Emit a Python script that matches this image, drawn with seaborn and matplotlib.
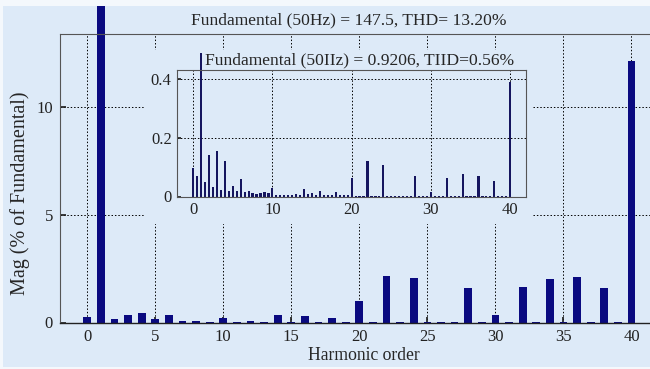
import numpy as np
import pandas as pd
import matplotlib
matplotlib.use("Agg")
import matplotlib.pyplot as plt
from matplotlib.patches import Rectangle
from matplotlib.transforms import Bbox, TransformedBbox
import seaborn as sns

# ---- data ----
main_order = list(range(0, 41))
main_mag = [0.26, 100.0, 0.14, 0.34, 0.43, 0.14, 0.34, 0.06, 0.06, 0.02,
            0.21, 0.02, 0.05, 0.02, 0.34, 0.02, 0.30, 0.02, 0.23, 0.02,
            1.00, 0.02, 2.16, 0.02, 2.06, 0.02, 0.02, 0.02, 1.58, 0.02,
            0.34, 0.02, 1.65, 0.02, 2.02, 0.02, 2.12, 0.02, 1.58, 0.02,
            12.15]

inset_order = [0, 0.5, 1, 1.5, 2, 2.5, 3, 3.5, 4, 4.5, 5, 5.5, 6, 6.5, 7, 7.5,
               8, 8.5, 9, 9.5, 10, 10.5, 11, 11.5, 12, 12.5, 13, 13.5, 14, 14.5,
               15, 15.5, 16, 16.5, 17, 17.5, 18, 18.5, 19, 19.5, 20, 20.5, 21,
               21.5, 22, 22.5, 23, 23.5, 24, 24.5, 25, 25.5, 26, 26.5, 27, 27.5,
               28, 28.5, 29, 29.5, 30, 30.5, 31, 31.5, 32, 32.5, 33, 33.5, 34,
               34.5, 35, 35.5, 36, 36.5, 37, 37.5, 38, 38.5, 39, 39.5, 40]
inset_mag = [0.096, 0.071, 0.487, 0.049, 0.142, 0.032, 0.156, 0.023, 0.119, 0.020,
             0.035, 0.018, 0.060, 0.015, 0.018, 0.011, 0.008, 0.011, 0.015, 0.011,
             0.030, 0.006, 0.006, 0.004, 0.005, 0.004, 0.009, 0.005, 0.024, 0.009,
             0.011, 0.005, 0.018, 0.004, 0.006, 0.004, 0.015, 0.004, 0.006, 0.004,
             0.062, 0.003, 0.003, 0.003, 0.122, 0.003, 0.003, 0.003, 0.107, 0.003,
             0.003, 0.003, 0.003, 0.003, 0.003, 0.003, 0.071, 0.003, 0.003, 0.003,
             0.014, 0.003, 0.003, 0.003, 0.063, 0.003, 0.003, 0.003, 0.075, 0.003,
             0.003, 0.003, 0.071, 0.003, 0.003, 0.003, 0.054, 0.003, 0.003, 0.003,
             0.389]

main_xticks = [0, 5, 10, 15, 20, 25, 30, 35, 40]
main_yticks = [0, 5, 10]
inset_xticks = [0, 10, 20, 30, 40]
inset_yticks = [0, 0.2, 0.4]
inset_yticklabels = ["0", "0.2", "0.4"]

main_title = "Fundamental (50Hz) = 147.5, THD= 13.20%"
inset_title = "Fundamental (50IIz) = 0.9206, TIID=0.56%"
xlabel = "Harmonic order"
ylabel = "Mag (% of Fundamental)"

# ---- style ----
sns.set_theme(style="ticks")
BG = "#DDEAF8"
BAR = "#0A0A80"
BAR2 = "#15155F"
plt.rcParams["font.family"] = ["Liberation Serif", "DejaVu Serif"]

W, H = 650, 369
fig = plt.figure(figsize=(6.5, 3.69), dpi=100)
fig.patch.set_facecolor("#F4F8FC")

def fx(px):
    return px / W

def fy(py):
    return (H - py) / H

# light panel background with a thin pale border around it
fig.add_artist(Rectangle((fx(3), fy(367)), 1 - fx(3), fy(6) - fy(367),
                         transform=fig.transFigure, facecolor=BG, edgecolor="none",
                         zorder=-1))
panel_clip = TransformedBbox(Bbox([[fx(3), fy(367)], [1.0, fy(6)]]), fig.transFigure)

grid_kw = dict(color="black", linestyle=(0, (1.5, 2.0)), linewidth=0.7)

# ---- main axes ----
ax = fig.add_axes([fx(60), fy(322.5), fx(658.7) - fx(60), fy(34) - fy(322.5)])
ax.set_facecolor(BG)
df_main = pd.DataFrame({"order": main_order, "mag": main_mag})
sns.barplot(data=df_main, x="order", y="mag", native_scale=True, color=BAR,
            saturation=1, width=0.57, linewidth=0, errorbar=None, ax=ax)
for p in ax.patches:
    p.set_clip_on(True)
    p.set_clip_path(None)
    p.set_clip_box(panel_clip)
ax.set_xlim(-2, 42)
ax.set_ylim(0, 13.4)
ax.set_xticks(main_xticks)
ax.set_yticks(main_yticks)
ax.set_xticklabels([str(t) for t in main_xticks])
ax.set_yticklabels([str(t) for t in main_yticks])
ax.tick_params(axis="both", direction="in", length=4, labelsize=12, colors="#222222",
               pad=5)
ax.set_axisbelow(True)
ax.grid(True, **grid_kw)
for s in ["left", "top"]:
    ax.spines[s].set_color("#555555")
    ax.spines[s].set_linewidth(0.8)
ax.spines["bottom"].set_color("#222222")
ax.spines["bottom"].set_linewidth(1.0)
ax.spines["right"].set_visible(False)
ax.set_xlabel(xlabel, fontsize=12.7)
ax.xaxis.set_label_coords((364 - 60) / (658.7 - 60), -(355 - 322.5) / 288.5)
ax.xaxis.label.set_va("center")
ax.set_ylabel(ylabel, fontsize=14.5)
ax.yaxis.set_label_coords((30 - 60) / (658.7 - 60), (322.5 - 193) / 288.5)
fig.text(fx(349), fy(20), main_title, ha="center", va="center", fontsize=12.6)

# ---- occluding panel behind the inset ----
fig.add_artist(Rectangle((fx(145), fy(224)), fx(533) - fx(145), fy(50) - fy(224),
                         transform=fig.transFigure, facecolor=BG, edgecolor="none",
                         zorder=1))

# ---- inset axes ----
ax2 = fig.add_axes([fx(177.3), fy(196.5), fx(526) - fx(177.3), fy(70) - fy(196.5)])
ax2.set_zorder(2)
ax2.set_facecolor(BG)
df_in = pd.DataFrame({"order": inset_order, "mag": inset_mag})
sns.barplot(data=df_in, x="order", y="mag", native_scale=True, color=BAR2,
            saturation=1, width=0.55, linewidth=0, errorbar=None, ax=ax2)
for p in ax2.patches:
    p.set_clip_on(False)
ax2.set_xlim(-2, 42)
ax2.set_ylim(0, 0.43)
ax2.set_xticks(inset_xticks)
ax2.set_yticks(inset_yticks)
ax2.set_xticklabels([str(t) for t in inset_xticks])
ax2.set_yticklabels(inset_yticklabels)
ax2.tick_params(axis="both", direction="in", length=3, labelsize=12, colors="#222222",
                pad=4)
ax2.set_axisbelow(True)
ax2.grid(True, **grid_kw)
for s in ax2.spines.values():
    s.set_color("#555555")
    s.set_linewidth(0.8)
ax2.set_xlabel("")
ax2.set_ylabel("")
fig.text(fx(205), fy(60), inset_title, ha="left", va="center", fontsize=12.6, zorder=3)

fig.savefig("out.png", dpi=100, facecolor=fig.get_facecolor())
